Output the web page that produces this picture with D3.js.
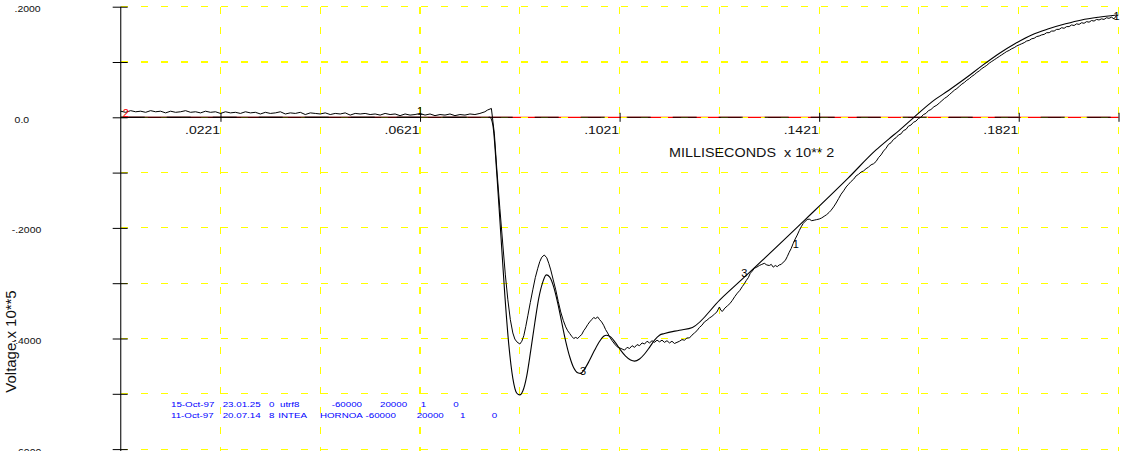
<!DOCTYPE html>
<html><head><meta charset="utf-8">
<script src="https://cdn.jsdelivr.net/npm/d3@7"></script>
<style>html,body{margin:0;padding:0;background:#fff;overflow:hidden}</style>
</head><body>
<script>
// ---------------- DATA ----------------
const xTickValues = [0.0221, 0.0621, 0.1021, 0.1421, 0.1821];
const xTickLabels = [".0221", ".0621", ".1021", ".1421", ".1821"];
const xGridValues = [0.0021, 0.0221, 0.0421, 0.0621, 0.0821, 0.1021, 0.1221, 0.1421, 0.1621, 0.1821, 0.2021];
const yGridValues = [0.2, 0.1, 0, -0.1, -0.2, -0.3, -0.4, -0.5, -0.6];
const yLabelValues = [0.2, 0, -0.2, -0.4, -0.6];
const yTickLabels = [" .2000", " 0.0", "-.2000", "-.4000", "-.6000"];
const xTitle = "MILLISECONDS  x 10** 2";
const yTitle = "Voltage.x 10**5";

// series 1 : measured (noisy) trace
const series1 = [
[0.0021,0.011],[0.0031,0.009],[0.0041,0.012],[0.0051,0.010],[0.0061,0.011],[0.0071,0.009],[0.0081,0.012],[0.0091,0.010],
[0.0101,0.011],[0.0111,0.008],[0.0121,0.011],[0.0131,0.009],[0.0141,0.010],[0.0151,0.012],[0.0161,0.009],[0.0171,0.010],
[0.0181,0.008],[0.0191,0.011],[0.0201,0.009],[0.0211,0.010],[0.0221,0.007],[0.0231,0.010],[0.0241,0.008],[0.0251,0.009],
[0.0261,0.007],[0.0271,0.010],[0.0281,0.008],[0.0291,0.009],[0.0301,0.006],[0.0311,0.009],[0.0321,0.007],[0.0331,0.008],
[0.0341,0.010],[0.0351,0.006],[0.0361,0.008],[0.0371,0.007],[0.0381,0.009],[0.0391,0.005],[0.0401,0.008],[0.0411,0.007],
[0.0421,0.006],[0.0431,0.008],[0.0441,0.005],[0.0451,0.007],[0.0461,0.006],[0.0471,0.008],[0.0481,0.004],[0.0491,0.007],
[0.0501,0.006],[0.0511,0.007],[0.0521,0.005],[0.0531,0.006],[0.0541,0.004],[0.0551,0.007],[0.0561,0.005],[0.0571,0.006],
[0.0581,0.003],[0.0591,0.006],[0.0601,0.004],[0.0611,0.005],[0.0621,0.007],[0.0631,0.004],[0.0641,0.006],[0.0651,0.003],
[0.0661,0.005],[0.0671,0.004],[0.0681,0.006],[0.0691,0.003],[0.0701,0.005],[0.0711,0.004],[0.0721,0.006],[0.0731,0.005],
[0.0741,0.007],[0.0751,0.010],[0.0756,0.013],[0.0764,0.016],
[0.0770,-0.030],[0.0775,-0.095],[0.0781,-0.165],[0.0787,-0.231],[0.0792,-0.285],[0.0797,-0.330],[0.0802,-0.366],[0.0807,-0.390],
[0.0811,-0.401],[0.0815,-0.406],[0.0821,-0.410],[0.0825,-0.405],[0.0829,-0.395],[0.0833,-0.378],[0.0837,-0.359],[0.0842,-0.335],
[0.0847,-0.312],[0.0852,-0.290],[0.0857,-0.273],[0.0861,-0.261],[0.0865,-0.253],[0.0870,-0.249],[0.0875,-0.254],[0.0879,-0.264],
[0.0883,-0.276],[0.0888,-0.294],[0.0893,-0.312],[0.0898,-0.333],[0.0903,-0.352],[0.0908,-0.367],[0.0913,-0.379],[0.0917,-0.386],
[0.0921,-0.391],[0.0925,-0.396],[0.0929,-0.400],[0.0933,-0.398],[0.0937,-0.400],[0.0941,-0.396],[0.0945,-0.393],[0.0949,-0.386],
[0.0953,-0.381],[0.0957,-0.375],[0.0961,-0.370],[0.0965,-0.366],[0.0969,-0.362],[0.0973,-0.364],[0.0977,-0.361],[0.0981,-0.366],
[0.0985,-0.370],[0.0989,-0.376],[0.0993,-0.384],[0.0997,-0.390],[0.1001,-0.397],[0.1006,-0.404],[0.1011,-0.410],[0.1016,-0.415],
[0.1021,-0.417],[0.1026,-0.419],[0.1031,-0.421],[0.1036,-0.416],[0.1041,-0.418],[0.1046,-0.413],[0.1051,-0.416],[0.1056,-0.411],
[0.1061,-0.413],[0.1066,-0.408],[0.1071,-0.410],[0.1076,-0.405],[0.1081,-0.408],[0.1086,-0.404],[0.1091,-0.407],[0.1096,-0.403],
[0.1101,-0.406],[0.1106,-0.403],[0.1111,-0.407],[0.1116,-0.404],[0.1121,-0.408],[0.1126,-0.405],[0.1131,-0.409],[0.1136,-0.407],
[0.1141,-0.405],[0.1146,-0.402],[0.1151,-0.403],[0.1156,-0.399],[0.1161,-0.399],[0.1166,-0.394],[0.1171,-0.390],[0.1176,-0.386],
[0.1181,-0.380],[0.1186,-0.376],[0.1191,-0.370],[0.1196,-0.367],[0.1201,-0.363],[0.1206,-0.360],[0.1211,-0.356],[0.1216,-0.352],
[0.1221,-0.343],[0.1224,-0.349],[0.1227,-0.351],[0.1232,-0.345],[0.1237,-0.341],[0.1242,-0.337],[0.1247,-0.331],[0.1252,-0.324],
[0.1257,-0.318],[0.1262,-0.313],[0.1267,-0.306],[0.1271,-0.301],[0.1275,-0.295],[0.1279,-0.290],[0.1283,-0.282],[0.1287,-0.278],
[0.1291,-0.273],[0.1296,-0.271],[0.1301,-0.268],[0.1306,-0.266],[0.1311,-0.264],[0.1316,-0.267],[0.1321,-0.268],[0.1325,-0.266],
[0.1329,-0.271],[0.1333,-0.268],[0.1337,-0.270],[0.1341,-0.267],[0.1345,-0.266],[0.1349,-0.262],[0.1353,-0.259],[0.1357,-0.252],
[0.1361,-0.244],[0.1365,-0.237],[0.1369,-0.228],[0.1373,-0.220],[0.1377,-0.213],[0.1381,-0.205],[0.1385,-0.198],[0.1389,-0.192],
[0.1393,-0.188],[0.1397,-0.185],[0.1401,-0.184],[0.1406,-0.187],[0.1411,-0.186],[0.1416,-0.185],[0.1421,-0.184],[0.1426,-0.182],
[0.1431,-0.179],[0.1436,-0.176],[0.1441,-0.172],[0.1445,-0.168],[0.1450,-0.162],[0.1455,-0.155],[0.1460,-0.147],[0.1465,-0.139],
[0.1470,-0.133],[0.1475,-0.126],[0.1480,-0.121],[0.1485,-0.116],[0.1490,-0.112],[0.1495,-0.106],[0.1500,-0.103],[0.1505,-0.099],
[0.1510,-0.097],[0.1515,-0.093],[0.1520,-0.090],[0.1525,-0.086],[0.1530,-0.084],[0.1535,-0.080],[0.1540,-0.073],[0.1545,-0.068],
[0.1550,-0.061],[0.1555,-0.056],[0.1560,-0.049],[0.1565,-0.046],[0.1570,-0.040],[0.1575,-0.037],[0.1580,-0.032],[0.1585,-0.030],
[0.1590,-0.024],[0.1595,-0.022],[0.1600,-0.016],[0.1605,-0.014],[0.1610,-0.009],[0.1615,-0.007],[0.1620,-0.002],[0.1625,0.000],
[0.1630,0.005],[0.1635,0.007],[0.1640,0.012],[0.1645,0.014],[0.1651,0.019],[0.1657,0.022],[0.1662,0.026],[0.1667,0.030],
[0.1672,0.034],[0.1677,0.037],[0.1682,0.041],[0.1687,0.045],[0.1692,0.049],[0.1697,0.052],[0.1702,0.056],[0.1707,0.060],
[0.1712,0.063],[0.1717,0.067],[0.1722,0.070],[0.1727,0.074],[0.1732,0.077],[0.1737,0.081],[0.1742,0.084],[0.1747,0.088],
[0.1752,0.091],[0.1757,0.094],[0.1762,0.098],[0.1767,0.101],[0.1772,0.104],[0.1777,0.107],[0.1782,0.110],[0.1787,0.113],
[0.1792,0.116],[0.1797,0.119],[0.1802,0.121],[0.1807,0.124],[0.1812,0.126],[0.1817,0.129],[0.1822,0.131],[0.1827,0.133],
[0.1832,0.135],[0.1837,0.138],[0.1842,0.139],[0.1847,0.142],[0.1852,0.143],[0.1857,0.146],[0.1862,0.147],[0.1867,0.149],
[0.1872,0.150],[0.1877,0.153],[0.1882,0.153],[0.1887,0.156],[0.1892,0.156],[0.1897,0.159],[0.1902,0.159],[0.1907,0.162],
[0.1912,0.161],[0.1917,0.164],[0.1922,0.164],[0.1927,0.167],[0.1932,0.166],[0.1937,0.169],[0.1942,0.168],[0.1947,0.171],
[0.1952,0.170],[0.1957,0.173],[0.1962,0.172],[0.1967,0.175],[0.1972,0.174],[0.1977,0.177],[0.1982,0.176],[0.1987,0.178],
[0.1992,0.177],[0.1997,0.180],[0.2002,0.179],[0.2007,0.181],[0.2012,0.178],[0.2017,0.184],[0.2021,0.185]
];

// series 2 : zero reference
const series2 = [[0.0021,0],[0.2021,0]];

// series 3 : simulated (smooth) trace
const series3 = [
[0.0021,0],[0.0761,0],[0.0767,-0.014],[0.0775,-0.104],[0.0783,-0.213],[0.0791,-0.322],[0.0799,-0.412],[0.0807,-0.472],
[0.0815,-0.499],[0.0821,-0.502],[0.0827,-0.495],[0.0835,-0.467],[0.0843,-0.421],[0.0851,-0.372],[0.0859,-0.327],[0.0867,-0.298],
[0.0874,-0.285],[0.0881,-0.289],[0.0889,-0.307],[0.0897,-0.336],[0.0905,-0.371],[0.0913,-0.405],[0.0921,-0.433],[0.0929,-0.453],
[0.0937,-0.462],[0.0943,-0.463],[0.0951,-0.455],[0.0961,-0.439],[0.0971,-0.421],[0.0981,-0.405],[0.0989,-0.396],[0.0995,-0.394],
[0.1003,-0.397],[0.1013,-0.408],[0.1023,-0.421],[0.1033,-0.432],[0.1043,-0.439],[0.1051,-0.441],[0.1061,-0.437],[0.1071,-0.428],
[0.1081,-0.416],[0.1091,-0.403],[0.1101,-0.394],[0.1111,-0.391],[0.1141,-0.385],[0.1167,-0.380],[0.1222,-0.330],[0.1276,-0.285],
[0.1393,-0.185],[0.1479,-0.110],[0.1535,-0.059],[0.1561,-0.039],
[0.1581,-0.024],[0.1611,0.000],[0.1647,0.028],[0.1681,0.049],[0.1715,0.071],[0.1747,0.093],[0.1781,0.115],[0.1815,0.134],
[0.1847,0.149],[0.1881,0.160],[0.1915,0.169],[0.1947,0.176],[0.1981,0.181],[0.2017,0.185]
];

// curve identifiers written along the traces
const curveLabels = [
  {series: 2, text: "2", x: 0.0031, v: 0.0076},
  {series: 1, text: "1", x: 0.0621, v: 0.0103},
  {series: 1, text: "1", x: 0.1374, v: -0.229},
  {series: 3, text: "3", x: 0.1271, v: -0.282},
  {series: 3, text: "3", x: 0.0948, v: -0.459},
  {series: 1, text: "1", x: 0.2017, v: 0.183}
];

// run information rows
const legendRow1 = ["15-Oct-97", "23.01.25", "0", "utrf8", "-60000", "20000", "1", "0"];
const legendRow2 = ["11-Oct-97", "20.07.14", "8", "INTEA", "HORNOA", "-60000", "20000", "1", "0"];

// ---------------- LAYOUT / STYLE ----------------
const W = 1121, H = 451;
const legendRow1X = [171, 222.7, 269, 280, 331.7, 380, 420.7, 453.3];
const legendRow2X = [171, 222.7, 269, 278.3, 320, 365.5, 416.7, 460, 491.7];
const seriesColor = {1: "#000", 2: "#ff0000", 3: "#000"};
const FONT = "'Liberation Sans', Arial, Helvetica, sans-serif";

const svg = d3.select("body").append("svg")
  .attr("width", W).attr("height", H)
  .style("font-family", FONT);
svg.append("rect").attr("width", W).attr("height", H).attr("fill", "#fff");

const x = d3.scaleLinear().domain([0.0021, 0.2021]).range([120.7, 1118.5]);
const y = d3.scaleLinear().domain([-0.6, 0.2]).range([449.1, 6.7]);

function sText(g, px, py, str, size, sx, anchor, fill) {
  return g.append("text")
    .attr("transform", `translate(${px},${py}) scale(${sx},1)`)
    .attr("text-anchor", anchor || "start")
    .attr("font-size", size)
    .attr("fill", fill || "#000")
    .attr("xml:space", "preserve")
    .text(str);
}

const lineLinear = d3.line().x(d => x(d[0])).y(d => y(d[1]));
const lineSmooth = d3.line().x(d => x(d[0])).y(d => y(d[1])).curve(d3.curveMonotoneX);

// series 2 (red zero line) under everything
svg.append("path").datum(series2).attr("d", lineLinear)
  .attr("fill", "none").attr("stroke", seriesColor[2]).attr("stroke-width", 1.2);

// grid
const grid = svg.append("g").attr("stroke", "#ffff00").attr("stroke-width", 1.1)
  .attr("stroke-dasharray", "7,13").attr("shape-rendering", "crispEdges");
grid.selectAll("line.h").data(yGridValues).join("line").attr("class", "h")
  .attr("x1", x(0.0021)).attr("x2", x(0.2021))
  .attr("y1", d => y(d)).attr("y2", d => y(d));
grid.selectAll("line.v").data(xGridValues.slice(1)).join("line").attr("class", "v")
  .attr("x1", d => x(d)).attr("x2", d => x(d))
  .attr("y1", y(0.2)).attr("y2", H);

// x axis (dashed black zero axis + ticks + labels)
svg.append("line")
  .attr("x1", x(0.0021)).attr("x2", x(0.2021)).attr("y1", y(0)).attr("y2", y(0))
  .attr("stroke", "#000").attr("stroke-width", 1.1).attr("stroke-dasharray", "24,22");

const xAxis = svg.append("g").attr("transform", `translate(0,${y(0)})`)
  .call(d3.axisBottom(x).tickValues(xTickValues.concat([0.2021])).tickSize(4.5)
    .tickFormat((d, i) => xTickLabels[i] || ""));
xAxis.attr("font-family", null).attr("font-size", null);
xAxis.select(".domain").remove();
xAxis.selectAll(".tick line").attr("y1", -4.5).attr("y2", 4.5).attr("stroke", "#000");
xAxis.selectAll(".tick text")
  .attr("x", null).attr("y", null).attr("dy", null)
  .attr("text-anchor", "end").attr("fill", "#111").attr("font-size", 11)
  .attr("transform", "translate(-1,16.8) scale(1.27,1)");

// y axis
svg.append("line")
  .attr("x1", x(0.0021)).attr("x2", x(0.0021)).attr("y1", y(0.2)).attr("y2", H)
  .attr("stroke", "#333").attr("stroke-width", 1.3);
const yAxis = svg.append("g").attr("transform", `translate(${x(0.0021)},0)`)
  .call(d3.axisLeft(y).tickValues(yGridValues).tickSize(8).tickFormat(""));
yAxis.select(".domain").remove();
yAxis.selectAll(".tick line").attr("x1", -8).attr("x2", 7).attr("stroke", "#000");

const yLab = svg.append("g");
yLabelValues.forEach((v, i) => sText(yLab, 11.7, y(v) + 5.4, yTickLabels[i], 8.4, 1.24, "start", "#111"));

// titles
sText(svg, 669, 157, xTitle, 12.5, 1.15, "start", "#111");
svg.append("text")
  .attr("transform", "translate(15.5,341.5) rotate(-90) scale(1.07,1)")
  .attr("text-anchor", "middle").attr("font-size", 14).attr("fill", "#111")
  .text(yTitle);

// traces
svg.append("path").datum(series3).attr("d", lineSmooth)
  .attr("fill", "none").attr("stroke", seriesColor[3]).attr("stroke-width", 1.1);
svg.append("path").datum(series1).attr("d", lineLinear)
  .attr("fill", "none").attr("stroke", seriesColor[1]).attr("stroke-width", 1)
  .attr("stroke-linejoin", "round");

// curve labels
curveLabels.forEach(l => {
  svg.append("text").attr("x", x(l.x)).attr("y", y(l.v)).attr("dy", "0.35em")
    .attr("text-anchor", "middle").attr("font-size", 11)
    .attr("fill", seriesColor[l.series]).text(l.text);
});

// run info legend
const leg = svg.append("g");
legendRow1.forEach((t, i) => sText(leg, legendRow1X[i], 407, t, 8, 1.22, "start", "#0000ff"));
legendRow2.forEach((t, i) => sText(leg, legendRow2X[i], 418, t, 8, 1.22, "start", "#0000ff"));
</script>
</body></html>
